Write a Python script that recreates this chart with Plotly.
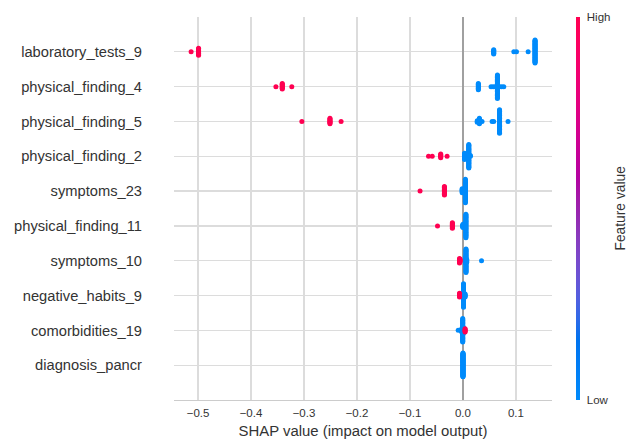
import numpy as np
import plotly.graph_objects as go

# ---------------- data ----------------
features = [
    "laboratory_tests_9", "physical_finding_4", "physical_finding_5",
    "physical_finding_2", "symptoms_23", "physical_finding_11",
    "symptoms_10", "negative_habits_9", "comorbidities_19", "diagnosis_pancr",
]

# SHAP values per feature (one value per sample) and feature value (1 = high, 0 = low)
shap_laboratory_tests_9 = [-0.513] + [-0.499]*11 + [0.058]*7 + [0.096, 0.101] + [0.123] + [0.136]*34
val_laboratory_tests_9 = [1]*12 + [0]*44

shap_physical_finding_4 = [-0.353] + [-0.341]*8 + [-0.323] + [0.029]*9 + [0.053, 0.057, 0.061, 0.069, 0.073, 0.077] + [0.065]*31
val_physical_finding_4 = [1]*10 + [0]*46

shap_physical_finding_5 = [-0.304] + [-0.251]*8 + [-0.230] + [0.027]*3 + [0.031]*8 + [0.036] + [0.055, 0.058] + [0.069]*31 + [0.085]
val_physical_finding_5 = [1]*10 + [0]*46

shap_physical_finding_2 = [-0.065, -0.058] + [-0.042]*6 + [-0.030] + [0.003]*9 + [0.006]*3 + [0.008]*2 + [0.011]*31 + [0.014]*2
val_physical_finding_2 = [1]*9 + [0]*47

shap_symptoms_23 = [-0.081] + [-0.035]*12 + [-0.0015]*6 + [0.003]*2 + [0.0035]*4 + [0.0045]*31
val_symptoms_23 = [1]*13 + [0]*43

shap_physical_finding_11 = [-0.048] + [-0.020]*8 + [-0.0005]*3 + [0.0]*5 + [0.004]*8 + [0.0055]*31
val_physical_finding_11 = [1]*9 + [0]*47

shap_symptoms_10 = [0.0045]*8 + [0.0057]*31 + [0.007]*5 + [0.035] + [-0.0065]*7 + [-0.0055]*4
val_symptoms_10 = [0]*45 + [1]*11

shap_negative_habits_9 = [0.0]*8 + [0.001]*31 + [0.002]*6 + [0.004]*5 + [-0.0065]*6
val_negative_habits_9 = [0]*50 + [1]*6

shap_comorbidities_19 = [-0.009] + [-0.003]*3 + [-0.0015]*7 + [-0.0005]*31 + [0.0005]*9 + [0.004]*5
val_comorbidities_19 = [0]*51 + [1]*5

shap_diagnosis_pancr = [0.0]*56
val_diagnosis_pancr = [1] + [0]*55

shap_values = [
    shap_laboratory_tests_9, shap_physical_finding_4, shap_physical_finding_5,
    shap_physical_finding_2, shap_symptoms_23, shap_physical_finding_11,
    shap_symptoms_10, shap_negative_habits_9, shap_comorbidities_19, shap_diagnosis_pancr,
]
feature_values = [
    val_laboratory_tests_9, val_physical_finding_4, val_physical_finding_5,
    val_physical_finding_2, val_symptoms_23, val_physical_finding_11,
    val_symptoms_10, val_negative_habits_9, val_comorbidities_19, val_diagnosis_pancr,
]

x_tick_values = [-0.5, -0.4, -0.3, -0.2, -0.1, 0.0, 0.1]


# ---------------- SHAP red-blue colormap (LCH blend) ----------------
def lab2rgb(L, a, b):
    fy = (L + 16) / 116.0
    fx = fy + a / 500.0
    fz = fy - b / 200.0

    def finv(t):
        return t**3 if t**3 > 0.008856 else (t - 16 / 116.0) / 7.787

    X, Y, Z = 0.95047 * finv(fx), 1.0 * finv(fy), 1.08883 * finv(fz)
    r = 3.2406 * X - 1.5372 * Y - 0.4986 * Z
    g = -0.9689 * X + 1.8758 * Y + 0.0415 * Z
    bb = 0.0557 * X - 0.2040 * Y + 1.0570 * Z
    out = []
    for c in (r, g, bb):
        c = 1.055 * c ** (1 / 2.4) - 0.055 if c > 0.0031308 else 12.92 * c
        out.append(int(round(min(max(c, 0), 1) * 255)))
    return "rgb(%d,%d,%d)" % tuple(out)


blue_lch = [54.0, 70.0, 4.6588]
red_lch = [54.0, 90.0, 0.35470565 + 2 * np.pi]
l_mid = 40.0
nsteps = 20
l_vals = list(np.linspace(blue_lch[0], l_mid, nsteps // 2)) + list(np.linspace(l_mid, red_lch[0], nsteps // 2))
c_vals = np.linspace(blue_lch[1], red_lch[1], nsteps)
h_vals = np.linspace(blue_lch[2], red_lch[2], nsteps)
colorscale = []
for pos, l, c, h in zip(np.linspace(0, 1, nsteps), l_vals, c_vals, h_vals):
    colorscale.append([float(pos), lab2rgb(l, c * np.cos(h), c * np.sin(h))])


# ---------------- beeswarm layout (as in shap) ----------------
def beeswarm_offsets(vals, row_height=0.4, nbins=100):
    v = np.asarray(vals, dtype=float)
    n = len(v)
    quant = np.round(nbins * (v - v.min()) / (v.max() - v.min() + 1e-8))
    inds = np.argsort(quant, kind="stable")
    layer, last_bin = 0, -1
    ys = np.zeros(n)
    for ind in inds:
        if quant[ind] != last_bin:
            layer = 0
        ys[ind] = np.ceil(layer / 2) * ((layer % 2) * 2 - 1)
        layer += 1
        last_bin = quant[ind]
    ys *= 0.9 * (row_height / np.max(ys + 1))
    return ys


n_feat = len(features)
all_x, all_y, all_c = [], [], []
for i, (sv, fv) in enumerate(zip(shap_values, feature_values)):
    pos = n_feat - 1 - i
    offs = beeswarm_offsets(sv)
    all_x.extend(sv)
    all_y.extend(list(pos + offs))
    all_c.extend(fv)

FONT = "Liberation Sans, Arial, sans-serif"
TXT = "#333333"
L_M, PLOT_W = 174, 378.0

fig = go.Figure()
fig.add_trace(go.Scatter(
    x=all_x, y=all_y, mode="markers",
    marker=dict(
        size=5, color=all_c, colorscale=colorscale, cmin=0, cmax=1,
        line=dict(width=0),
        colorbar=dict(
            thickness=4, len=1.0, lenmode="fraction", y=0.5, yanchor="middle",
            x=(576 - L_M) / PLOT_W, xanchor="left", xpad=0, ypad=0, outlinewidth=0,
            tickvals=[0, 1], ticktext=["Low", "High"],
            ticks="outside", ticklen=5, tickcolor="rgba(0,0,0,0)",
            tickfont=dict(family=FONT, size=11.5, color=TXT),
        ),
    ),
    hoverinfo="skip", showlegend=False,
))

fig.add_annotation(
    text="Feature value", xref="paper", yref="paper",
    x=(620 - L_M) / PLOT_W, y=0.5, xanchor="center", yanchor="middle",
    textangle=-90, showarrow=False,
    font=dict(family=FONT, size=13.8, color=TXT),
)

fig.update_layout(
    width=626, height=442,
    margin=dict(l=L_M, r=74, t=17, b=42, autoexpand=False),
    paper_bgcolor="white", plot_bgcolor="white",
    font=dict(family=FONT, color=TXT),
    xaxis=dict(
        range=[-0.5453, 0.168], tickvals=x_tick_values, tickformat=".1f",
        showgrid=True, gridcolor="#dcdcdc", gridwidth=1.2,
        zeroline=True, zerolinecolor="#a0a0a0", zerolinewidth=1.4,
        showline=True, linecolor="#cccccc", linewidth=1.2,
        ticks="", tickfont=dict(size=11.5, color=TXT), ticklabelstandoff=2,
        title=dict(text="SHAP value (impact on model output)", font=dict(size=14.9, color=TXT), standoff=7),
        automargin=False,
    ),
    yaxis=dict(
        range=[-1, n_feat], tickvals=list(range(n_feat)), ticktext=features[::-1],
        showgrid=True, gridcolor="#dcdcdc", gridwidth=1.2,
        zeroline=False, showline=False, ticks="",
        tickfont=dict(size=14.7, color=TXT), ticklabelstandoff=31,
        automargin=False,
    ),
)

fig.write_html(
    "out.html",
    config={"displayModeBar": False, "staticPlot": True},
    post_script="document.body.style.margin='0px';document.body.style.overflow='hidden';",
)
